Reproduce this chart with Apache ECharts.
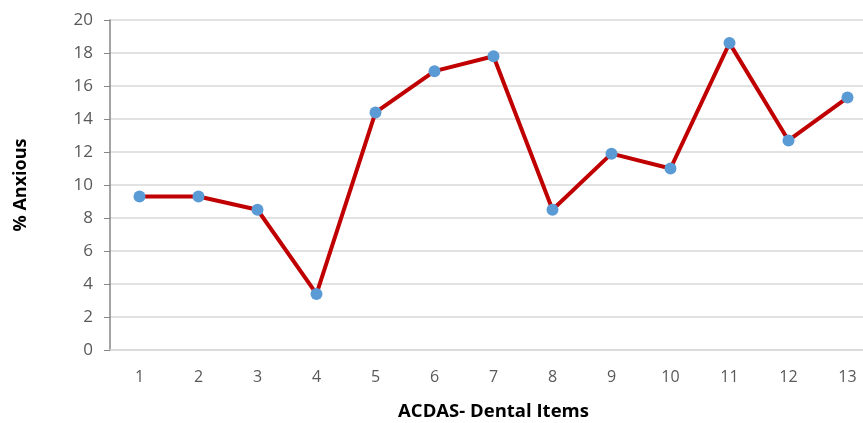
<!DOCTYPE html>
<html><head><meta charset="utf-8">
<script src="https://cdn.jsdelivr.net/npm/echarts@6/dist/echarts.min.js"></script>
<style>html,body{margin:0;padding:0;background:#fff}#c{width:863px;height:423px}</style>
</head><body><div id="c"></div>
<script>
const categories = ['1','2','3','4','5','6','7','8','9','10','11','12','13'];
const anxious = [9.3, 9.3, 8.5, 3.4, 14.4, 16.9, 17.8, 8.5, 11.9, 11.0, 18.6, 12.7, 15.3];
const yTicks = {min: 0, max: 20, interval: 2};
const chart = echarts.init(document.getElementById('c'));
chart.setOption({
  animation: false,
  grid: {left: 110, width: 767, top: 20, height: 330, outerBoundsMode: 'none', containLabel: false},
  xAxis: {
    type: 'category', data: categories, boundaryGap: true,
    name: 'ACDAS- Dental Items', nameLocation: 'middle', nameGap: 52,
    nameTextStyle: {fontFamily: 'Open Sans', fontWeight: 'bold', fontSize: 18.5, color: '#000'},
    axisLine: {lineStyle: {color: '#d9d9d9', width: 1.5}},
    axisTick: {show: false},
    axisLabel: {fontFamily: 'Open Sans', fontSize: 16, color: '#595959', margin: 19}
  },
  yAxis: {
    type: 'value', min: yTicks.min, max: yTicks.max, interval: yTicks.interval,
    name: '% Anxious', nameLocation: 'middle', nameGap: 80, nameRotate: 90,
    nameTextStyle: {fontFamily: 'Open Sans', fontWeight: 'bold', fontSize: 18, color: '#000'},
    axisLine: {show: true, lineStyle: {color: '#868686', width: 1.5}},
    axisTick: {show: true, length: 6, lineStyle: {color: '#868686'}},
    axisLabel: {fontFamily: 'Open Sans', fontSize: 17, color: '#595959', margin: 17},
    splitLine: {lineStyle: {color: '#d9d9d9', width: 1.5}}
  },
  series: [{
    type: 'line', data: anxious,
    lineStyle: {color: '#c00000', width: 4},
    itemStyle: {color: '#5b9bd5'},
    symbol: 'circle', symbolSize: 12
  }]
});
</script></body></html>
